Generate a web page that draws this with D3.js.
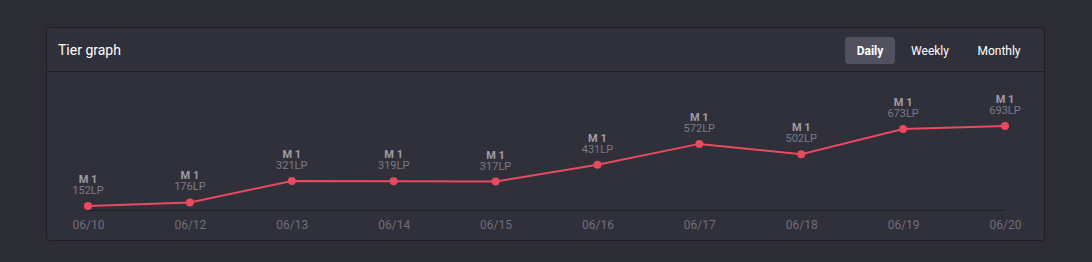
<!DOCTYPE html>
<html><head><meta charset="utf-8">
<script src="https://cdn.jsdelivr.net/npm/d3@7"></script>
<style>
html,body{margin:0;padding:0;background:#2c2c34;}
svg{display:block;}
text{font-family:Roboto,"Noto Sans",sans-serif;}
</style></head>
<body>
<svg id="c" width="1092" height="262"></svg>
<script>
const dates = ["06/10","06/12","06/13","06/14","06/15","06/16","06/17","06/18","06/19","06/20"];
const tiers = ["M 1","M 1","M 1","M 1","M 1","M 1","M 1","M 1","M 1","M 1"];
const lp = [152,176,321,319,317,431,572,502,673,693];
const tabs = ["Daily","Weekly","Monthly"];

const svg = d3.select("#c");
svg.append("rect").attr("width",1092).attr("height",262).attr("fill","#2c2c34");
// card
svg.append("rect").attr("x",46.5).attr("y",27.5).attr("width",998).attr("height",213).attr("rx",3)
  .attr("fill","#30303a").attr("stroke","#1d1d23");
svg.append("line").attr("x1",47).attr("x2",1044).attr("y1",71.5).attr("y2",71.5).attr("stroke","#1d1d23");
svg.append("text").attr("x",58).attr("y",55).attr("fill","#ffffff").attr("font-size",14).text("Tier graph");

// tabs
const tabX = [870,930,999];
svg.append("rect").attr("x",845).attr("y",37).attr("width",50).attr("height",27).attr("rx",4).attr("fill","#51515f");
svg.selectAll(".tab").data(tabs).enter().append("text")
  .attr("x",(d,i)=>tabX[i]).attr("y",55).attr("text-anchor","middle")
  .attr("font-size",12).attr("fill","#fff").attr("font-weight",(d,i)=>i===0?"bold":"normal").text(d=>d);

const x = d3.scalePoint().domain(dates).range([88,1005]);
const y = d3.scaleLinear().domain([125,693]).range([210,126]);

// axis
const ax = svg.append("g").attr("transform","translate(0,210.5)")
  .call(d3.axisBottom(x).tickSize(0).tickPadding(10));
ax.select(".domain").attr("stroke","#1f1f26").attr("d","M88,0H1005");
ax.selectAll("text").attr("fill","#6f6f7b").attr("font-size",12).attr("font-family","Roboto,sans-serif");

const pts = dates.map((d,i)=>({d,v:lp[i],t:tiers[i]}));
svg.append("path").datum(pts).attr("fill","none").attr("stroke","#e84a5f").attr("stroke-width",2)
  .attr("d",d3.line().x(p=>x(p.d)).y(p=>y(p.v)));
svg.selectAll(".pt").data(pts).enter().append("circle")
  .attr("cx",p=>x(p.d)).attr("cy",p=>y(p.v)).attr("r",4).attr("fill","#e84a5f");
svg.selectAll(".tl").data(pts).enter().append("text")
  .attr("x",p=>x(p.d)).attr("y",p=>y(p.v)-23).attr("text-anchor","middle")
  .attr("font-size",11).attr("font-weight","bold").attr("fill","#9d9da8").text(p=>p.t);
svg.selectAll(".lp").data(pts).enter().append("text")
  .attr("x",p=>x(p.d)).attr("y",p=>y(p.v)-12).attr("text-anchor","middle")
  .attr("font-size",11).attr("fill","#7b7b87").text(p=>p.v+"LP");
</script>
</body></html>
